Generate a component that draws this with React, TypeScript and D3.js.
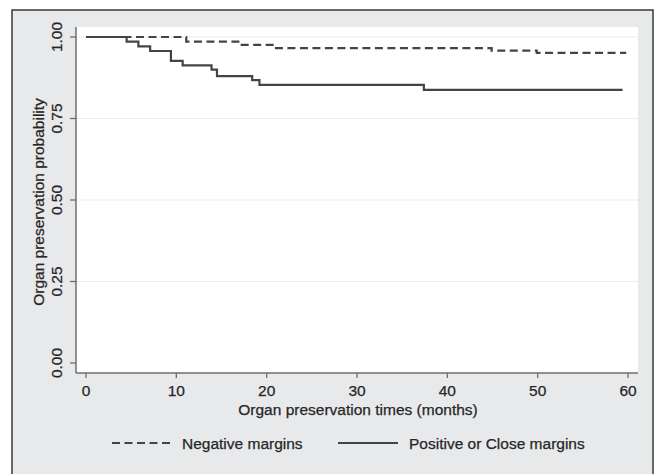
import React from "react";
import * as d3 from "d3";

const negTimes = [0, 11.1, 17.0, 20.9, 44.9, 49.9, 59.8];
const negSurv = [1, 0.986, 0.976, 0.966, 0.958, 0.951, 0.951];
const posTimes = [0, 4.5, 5.8, 7.1, 9.4, 10.7, 13.9, 14.5, 18.4, 19.2, 37.4, 59.4];
const posSurv = [1, 0.986, 0.971, 0.957, 0.927, 0.913, 0.9, 0.88, 0.868, 0.853, 0.838, 0.838];
const xTicks = [0, 10, 20, 30, 40, 50, 60];
const yTicks = [0, 0.25, 0.5, 0.75, 1];
const yTickLabels = ["0.00", "0.25", "0.50", "0.75", "1.00"];
const legendLabels = ["Negative margins", "Positive or Close margins"];

const W = 657;
const H = 474;
const FONT = "'Liberation Sans', Arial, Helvetica, sans-serif";
const LINE = "#444444";
const TXT = "#262626";

export default function App() {
  const x = d3.scaleLinear().domain([0, 60]).range([86, 628]);
  const y = d3.scaleLinear().domain([0, 1]).range([363, 37]);
  const line = d3
    .line<[number, number]>()
    .x((d) => x(d[0]))
    .y((d) => y(d[1]))
    .curve(d3.curveStepAfter);
  const negData = negTimes.map((t, i) => [t, negSurv[i]] as [number, number]);
  const posData = posTimes.map((t, i) => [t, posSurv[i]] as [number, number]);

  const plotL = 76, plotR = 638, plotT = 27, plotB = 373;
  const txtProps = { fontSize: 15.5, fill: TXT, stroke: TXT, strokeWidth: 0.25 };

  return (
    <svg
      width={W}
      height={H}
      style={{ position: "absolute", left: 0, top: 0, background: "#fff" }}
      fontFamily={FONT}
    >
      <rect x={12} y={10} width={641} height={480} fill="#e8e9eb" stroke="#3a3a3a" strokeWidth={1.5} />
      <rect x={plotL} y={plotT} width={plotR - plotL} height={plotB - plotT} fill="#ffffff" />
      {yTicks.slice(1).map((v) => (
        <line key={"g" + v} x1={plotL} x2={plotR} y1={y(v)} y2={y(v)} stroke="#ebebeb" strokeWidth={1.2} />
      ))}
      <line x1={plotL} x2={plotL} y1={plotT} y2={plotB} stroke="#6e6e6e" strokeWidth={1.5} />
      <line x1={plotL} x2={plotR} y1={plotB} y2={plotB} stroke="#6e6e6e" strokeWidth={1.5} />
      {yTicks.map((v, i) => (
        <g key={"yt" + v}>
          <line x1={plotL - 6} x2={plotL} y1={y(v)} y2={y(v)} stroke="#6e6e6e" strokeWidth={1.3} />
          <text
            transform={`translate(56,${y(v)}) rotate(-90)`}
            textAnchor="middle"
            dy="0.36em"
            {...txtProps}
          >
            {yTickLabels[i]}
          </text>
        </g>
      ))}
      {xTicks.map((v) => (
        <g key={"xt" + v}>
          <line x1={x(v)} x2={x(v)} y1={plotB} y2={plotB + 5} stroke="#6e6e6e" strokeWidth={1.3} />
          <text x={x(v)} y={396} textAnchor="middle" {...txtProps}>
            {v}
          </text>
        </g>
      ))}
      <text
        transform={`translate(38,${(plotT + plotB) / 2 + 2}) rotate(-90)`}
        textAnchor="middle"
        dy="0.36em"
        {...txtProps}
      >
        Organ preservation probability
      </text>
      <text x={(plotL + plotR) / 2 + 1} y={415} textAnchor="middle" {...txtProps}>
        Organ preservation times (months)
      </text>
      <path d={line(negData) || ""} fill="none" stroke={LINE} strokeWidth={2.2} strokeDasharray="8,4.5" />
      <path d={line(posData) || ""} fill="none" stroke={LINE} strokeWidth={2.2} />
      <line x1={112} x2={172} y1={443} y2={443} stroke={LINE} strokeWidth={2} strokeDasharray="8,4.5" />
      <text x={182} y={448.5} {...txtProps}>
        {legendLabels[0]}
      </text>
      <line x1={338} x2={398} y1={443} y2={443} stroke={LINE} strokeWidth={2} />
      <text x={409} y={448.5} {...txtProps}>
        {legendLabels[1]}
      </text>
    </svg>
  );
}
